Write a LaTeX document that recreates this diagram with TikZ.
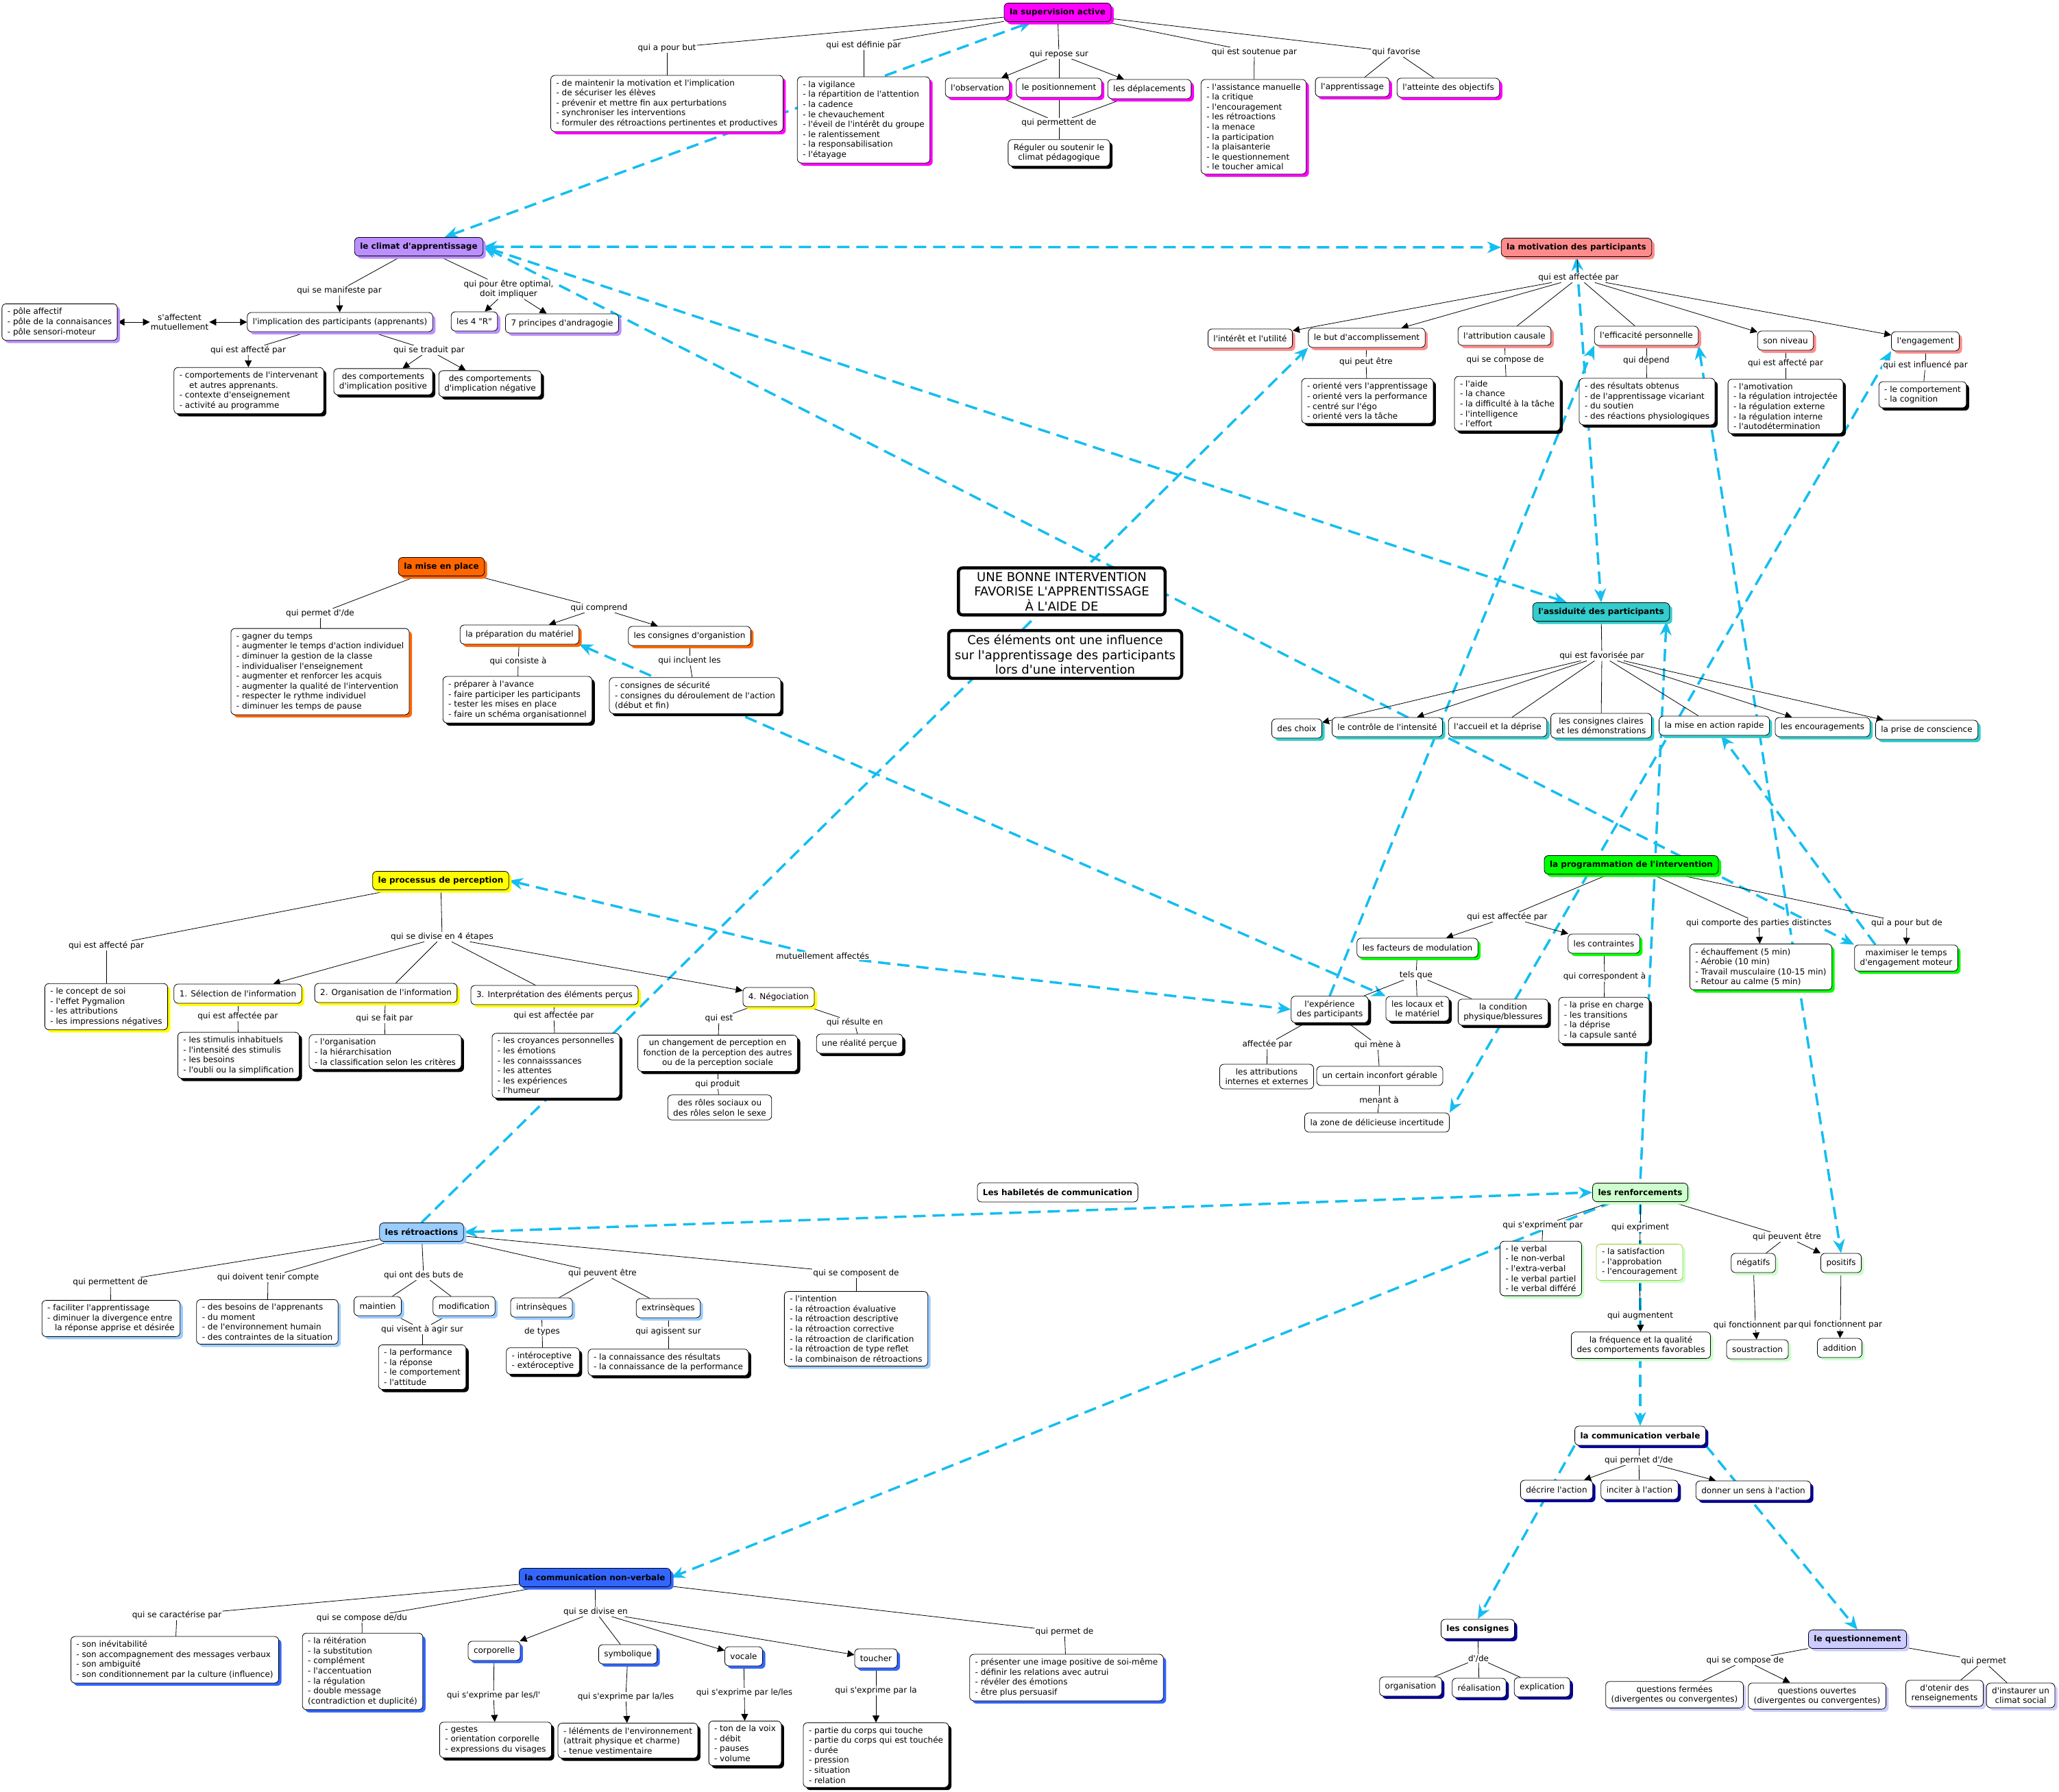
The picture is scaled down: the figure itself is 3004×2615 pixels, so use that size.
\documentclass[tikz,border=0pt]{standalone}
\usepackage{fontspec}
\setmainfont{DejaVu Sans}[Ligatures=TeXOff]
\usetikzlibrary{shadows,arrows.meta,calc}
\pgfdeclarelayer{back}\pgfdeclarelayer{bg}
\pgfsetlayers{back,bg,main}
\definecolor{cy}{RGB}{20,190,240}
\definecolor{mag}{RGB}{255,0,255}
\definecolor{lav}{RGB}{187,143,255}
\definecolor{ora}{RGB}{255,102,0}
\definecolor{yel}{RGB}{255,255,0}
\definecolor{sal}{RGB}{255,140,140}
\definecolor{tea}{RGB}{51,204,204}
\definecolor{grn}{RGB}{0,255,0}
\definecolor{lgr}{RGB}{204,255,204}
\definecolor{lbl}{RGB}{153,204,255}
\definecolor{rbl}{RGB}{51,102,255}
\definecolor{nav}{RGB}{0,0,153}
\definecolor{qlav}{RGB}{204,204,255}
\definecolor{ygr}{RGB}{153,204,51}
\tikzset{
 nf/.style={font=\fontsize{12}{14.6}\selectfont},
 bff/.style={font=\fontsize{12}{14.6}\selectfont\bfseries},
 cc/.style={draw, line width=0.8pt, rounded corners=6pt, fill=white, inner xsep=8pt, inner ysep=6pt, align=center, minimum height=28pt},
 cl/.style={cc, align=left},
 sh/.style={general shadow={fill=#1, shadow xshift=4pt, shadow yshift=-4pt}},
 hd/.style={cc, bff, fill=#1, sh=#1, minimum height=27pt},
 lb/.style={fill=white, inner sep=1pt, align=center},
 big/.style={draw, line width=4.5pt, rounded corners=6pt, fill=white, align=center, inner xsep=9pt, inner ysep=6pt, font=\fontsize{18}{21.6}\selectfont},
 ln/.style={line width=0.8pt},
 ar/.style={ln, -{Triangle[length=10pt,width=10pt]}},
 dar/.style={ln, {Triangle[length=10pt,width=10pt]}-{Triangle[length=10pt,width=10pt]}},
 xl/.style={draw=cy, line width=3.5pt, dash pattern=on 18pt off 10pt},
 xe/.style={xl, -{Stealth[length=20pt,width=17pt]}},
 xs/.style={xl, {Stealth[length=20pt,width=17pt]}-},
 xb/.style={xl, {Stealth[length=20pt,width=17pt]}-{Stealth[length=20pt,width=17pt]}},
}
\begin{document}
\begin{tikzpicture}[x=1pt,y=-1pt,nf]
\useasboundingbox (0,0) rectangle (3004,2615);
\begin{pgfonlayer}{back}\fill[white] (0,0) rectangle (3004,2615);\end{pgfonlayer}

% ---------- supervision
\node[hd=mag] (sup) at (1543,18) {la supervision active};
\node[lb] (l1) at (973,70) {qui a pour but};
\node[cl, sh=mag] (b1) at (973,151) {- de maintenir la motivation et l'implication\\- de sécuriser les élèves\\- prévenir et mettre fin aux perturbations\\- synchroniser les interventions\\- formuler des rétroactions pertinentes et productives};
\node[lb] (l2) at (1260,66) {qui est définie par};
\node[cl, sh=mag] (b2) at (1260,175) {- la vigilance\\- la répartition de l'attention\\- la cadence\\- le chevauchement\\- l'éveil de l'intérêt du groupe\\- le ralentissement\\- la responsabilisation\\- l'étayage};
\node[lb] (l3) at (1545,79) {qui repose sur};
\node[cc, sh=mag] (obs) at (1426,128) {l'observation};
\node[cc, sh=mag] (pos) at (1545,128) {le positionnement};
\node[cc, sh=mag] (dep) at (1677,130) {les déplacements};
\node[lb] (l4) at (1545,179) {qui permettent de};
\node[cc, sh=black] (reg) at (1545,223) {Réguler ou soutenir le\\climat pédagogique};
\node[lb] (l5) at (1830,76) {qui est soutenue par};
\node[cl, sh=mag] (b5) at (1829,185) {- l'assistance manuelle\\- la critique\\- l'encouragement\\- les rétroactions\\- la menace\\- la participation\\- la plaisanterie\\- le questionnement\\- le toucher amical};
\node[lb] (l6) at (2037,76) {qui favorise};
\node[cc, sh=mag] (app) at (1973,127) {l'apprentissage};
\node[cc, sh=mag] (att) at (2113,128) {l'atteinte des objectifs};

% ---------- climat
\node[hd=lav] (cli) at (611,360) {le climat d'apprentissage};
\node[lb] (l7) at (495,424) {qui se manifeste par};
\node[cc, sh=lav] (impl) at (496,470) {l'implication des participants (apprenants)};
\node[lb] (l8) at (742,422) {qui pour être optimal,\\doit impliquer};
\node[cc, sh=lav] (r4) at (692,469) {les 4 "R"};
\node[cc, sh=lav] (r7) at (820,472) {7 principes d'andragogie};
\node[lb] (l9) at (262,470) {s'affectent\\mutuellement};
\node[cl, sh=lav] (pole) at (87,470) {- pôle affectif\\- pôle de la connaisances\\- pôle sensori-moteur};
\node[lb] (l10) at (362,511) {qui est affecté par};
\node[cl, sh=black] (bcomp) at (363,570) {- comportements de l'intervenant\\\hspace*{1.2em}et autres apprenants.\\- contexte d'enseignement\\- activité au programme};
\node[lb] (l11) at (626,511) {qui se traduit par};
\node[cc, sh=black] (pos1) at (559,557) {des comportements\\d'implication positive};
\node[cc, sh=black] (neg1) at (715,560) {des comportements\\d'implication négative};

% ---------- mise en place
\node[hd=ora] (mep) at (644,827) {la mise en place};
\node[lb] (l12) at (467,895) {qui permet d'/de};
\node[cl, sh=ora] (bgag) at (467,980) {- gagner du temps\\- augmenter le temps d'action individuel\\- diminuer la gestion de la classe\\- individualiser l'enseignement\\- augmenter et renforcer les acquis\\- augmenter la qualité de l'intervention\\- respecter le rythme individuel\\- diminuer les temps de pause};
\node[lb] (l13) at (874,887) {qui comprend};
\node[cc, sh=ora] (prep) at (758,926) {la préparation du matériel};
\node[cc, sh=ora] (cons) at (1006,928) {les consignes d'organistion};
\node[lb] (l14) at (756,965) {qui consiste à};
\node[cl, sh=black] (bprep) at (755,1021) {- préparer à l'avance\\- faire participer les participants\\- tester les mises en place\\- faire un schéma organisationnel};
\node[lb] (l15) at (1006,964) {qui incluent les};
\node[cl, sh=black] (bcons) at (1014,1015) {- consignes de sécurité\\- consignes du déroulement de l'action\\(début et fin)};

% ---------- central
\node[big, inner xsep=23pt] (une) at (1549,863) {UNE BONNE INTERVENTION\\FAVORISE L'APPRENTISSAGE\\À L'AIDE DE};
\node[big] (ces) at (1554,955) {Ces éléments ont une influence\\sur l'apprentissage des participants\\lors d'une intervention};

% ---------- perception
\node[hd=yel] (per) at (643,1285) {le processus de perception};
\node[lb] (l16) at (155,1380) {qui est affecté par};
\node[cl, sh=yel] (bper) at (155,1469) {- le concept de soi\\- l'effet Pygmalion\\- les attributions\\- les impressions négatives};
\node[lb] (l17) at (645,1367) {qui se divise en 4 étapes};
\node[cc, sh=yel] (s1) at (347,1450) {1. Sélection de l'information};
\node[cc, sh=yel] (s2) at (563,1449) {2. Organisation de l'information};
\node[cc, sh=yel] (s3) at (809,1452) {3. Interprétation des éléments perçus};
\node[cc, sh=yel] (s4) at (1136,1455) {4. Négociation};
\node[lb] (l18) at (347,1483) {qui est affectée par};
\node[cl, sh=black] (b18) at (348,1540) {- les stimulis inhabituels\\- l'intensité des stimulis\\- les besoins\\- l'oubli ou la simplification};
\node[lb] (l19) at (561,1486) {qui se fait par};
\node[cl, sh=black] (b19) at (562,1535) {- l'organisation\\- la hiérarchisation\\- la classification selon les critères};
\node[lb] (l20) at (808,1482) {qui est affectée par};
\node[cl, sh=black] (b20) at (811,1555) {- les croyances personnelles\\- les émotions\\- les connaisssances\\- les attentes\\- les expériences\\- l'humeur};
\node[lb] (l21) at (1049,1486) {qui est};
\node[cc, sh=black] (b21) at (1047,1537) {un changement de perception en\\fonction de la perception des autres\\ou de la perception sociale};
\node[lb] (l22) at (1047,1582) {qui produit};
\node[cc] (b22) at (1050,1616) {des rôles sociaux ou\\des rôles selon le sexe};
\node[lb] (l23) at (1247,1492) {qui résulte en};
\node[cc, sh=black] (b23) at (1254,1523) {une réalité perçue};
\node[lb] (mut) at (1200,1395) {mutuellement affectés};

% ---------- motivation
\node[hd=sal] (mot) at (2300,361) {la motivation des participants};
\node[lb] (l24) at (2303,405) {qui est affectée par};
\node[cc, sh=sal] (intu) at (1824,494) {l'intérêt et l'utilité};
\node[cc, sh=sal] (but) at (1994,493) {le but d'accomplissement};
\node[cc, sh=sal] (attr) at (2195,490) {l'attribution causale};
\node[cc, sh=sal] (eff) at (2402,490) {l'efficacité personnelle};
\node[cc, sh=sal] (niv) at (2605,497) {son niveau};
\node[cc, sh=sal] (eng) at (2809,498) {l'engagement};
\node[lb] (l25) at (1993,528) {qui peut être};
\node[cl, sh=black] (b25) at (1995,585) {- orienté vers l'apprentissage\\- orienté vers la performance\\- centré sur l'égo\\- orienté vers la tâche};
\node[lb] (l26) at (2196,525) {qui se compose de};
\node[cl, sh=black] (b26) at (2199,589) {- l'aide\\- la chance\\- la difficulté à la tâche\\- l'intelligence\\- l'effort};
\node[lb] (l27) at (2402,526) {qui dépend};
\node[cl, sh=black] (b27) at (2403,586) {- des résultats obtenus\\- de l'apprentissage vicariant\\- du soutien\\- des réactions physiologiques};
\node[lb] (l28) at (2605,530) {qui est affecté par};
\node[cl, sh=black] (b28) at (2605,593) {- l'amotivation\\- la régulation introjectée\\- la régulation externe\\- la régulation interne\\- l'autodétermination};
\node[lb] (l29) at (2809,533) {qui est influencé par};
\node[cl, sh=black] (b29) at (2805,576) {- le comportement\\- la cognition};

% ---------- assiduite
\node[hd=tea] (ass) at (2336,893) {l'assiduité des participants};
\node[lb] (l30) at (2337,957) {qui est favorisée par};
\node[cc, sh=tea] (cho) at (1892,1063) {des choix};
\node[cc, sh=tea] (ctl) at (2024,1061) {le contrôle de l'intensité};
\node[cc, sh=tea] (acc) at (2185,1061) {l'accueil et la déprise};
\node[cc, sh=tea] (ccl) at (2336,1059) {les consignes claires\\et les démonstrations};
\node[cc, sh=tea] (mar) at (2501,1059) {la mise en action rapide};
\node[cc, sh=tea] (enc) at (2659,1061) {les encouragements};
\node[cc, sh=tea] (pdc) at (2811,1065) {la prise de conscience};

% ---------- programmation
\node[hd=grn] (prg) at (2380,1262) {la programmation de l'intervention};
\node[lb] (l31) at (2199,1338) {qui est affectée par};
\node[cc, sh=grn] (fac) at (2068,1383) {les facteurs de modulation};
\node[cc, sh=grn] (ctr) at (2340,1377) {les contraintes};
\node[lb] (l32) at (2066,1423) {tels que};
\node[cc, sh=black] (xpe) at (1940,1473) {l'expérience\\des participants};
\node[cc, sh=black] (loc) at (2068,1472) {les locaux et\\le matériel};
\node[cc, sh=black] (cnd) at (2193,1477) {la condition\\physique/blessures};
\node[lb] (l33) at (1849,1524) {affectée par};
\node[cc] (att2) at (1848,1571) {les attributions\\internes et externes};
\node[lb] (l34) at (2010,1525) {qui mène à};
\node[cc] (inc) at (2013,1570) {un certain inconfort gérable};
\node[lb] (l35) at (2012,1605) {menant à};
\node[cc] (zon) at (2009,1638) {la zone de délicieuse incertitude};
\node[lb] (l36) at (2341,1425) {qui correspondent à};
\node[cl, sh=black] (b36) at (2340,1489) {- la prise en charge\\- les transitions\\- la déprise\\- la capsule santé};
\node[lb] (l37) at (2566,1347) {qui comporte des parties distinctes};
\node[cl, sh=grn] (b37) at (2569,1411) {- échauffement (5 min)\\- Aérobie (10 min)\\- Travail musculaire (10-15 min)\\- Retour au calme (5 min)};
\node[lb] (l38) at (2782,1347) {qui a pour but de};
\node[cc, sh=grn] (mxt) at (2781,1398) {maximiser le temps\\d'engagement moteur};

% ---------- renforcements
\node[hd=lgr] (ren) at (2393,1740) {les renforcements};
\node[lb] (l39) at (2251,1788) {qui s'expriment par};
\node[cl, sh=lgr] (b39) at (2248,1851) {- le verbal\\- le non-verbal\\- l'extra-verbal\\- le verbal partiel\\- le verbal différé};
\node[lb] (l40) at (2393,1791) {qui expriment};
\node[cl, sh=lgr, draw=ygr] (b40) at (2392,1842) {- la satisfaction\\- l'approbation\\- l'encouragement};
\node[lb] (l41) at (2393,1920) {qui augmentent};
\node[cc, sh=lgr] (fre) at (2394,1963) {la fréquence et la qualité\\des comportements favorables};
\node[lb] (l42) at (2607,1805) {qui peuvent être};
\node[cc, sh=lgr] (neg) at (2558,1843) {négatifs};
\node[cc, sh=lgr] (posf) at (2686,1843) {positifs};
\node[lb] (l43) at (2561,1934) {qui fonctionnent par};
\node[cc, sh=lgr] (sou) at (2564,1969) {soustraction};
\node[lb] (l44) at (2685,1933) {qui fonctionnent par};
\node[cc, sh=lgr] (addi) at (2684,1967) {addition};

% ---------- communication verbale
\node[cc, bff, sh=nav] (cv) at (2393,2095) {la communication verbale};
\node[lb] (l45) at (2391,2131) {qui permet d'/de};
\node[cc, sh=nav] (dec) at (2271,2174) {décrire l'action};
\node[cc, sh=nav] (inci) at (2392,2174) {inciter à l'action};
\node[cc, sh=nav] (don) at (2558,2175) {donner un sens à l'action};
\node[cc, bff, sh=nav] (lcs) at (2156,2377) {les consignes};
\node[lb] (l46) at (2157,2420) {d'/de};
\node[cc, sh=nav] (org) at (2058,2461) {organisation};
\node[cc, sh=nav] (rea) at (2158,2463) {réalisation};
\node[cc, sh=nav] (expl) at (2250,2462) {explication};
\node[hd=qlav] (que) at (2710,2392) {le questionnement};
\node[lb] (l47) at (2546,2423) {qui se compose de};
\node[cc, sh=qlav] (qf) at (2443,2473) {questions fermées\\(divergentes ou convergentes)};
\node[cc, sh=qlav] (qo) at (2651,2475) {questions ouvertes\\(divergentes ou convergentes)};
\node[lb] (l48) at (2894,2424) {qui permet};
\node[cc, sh=qlav] (qr) at (2837,2471) {d'otenir des\\renseignements};
\node[cc, sh=qlav] (qc) at (2948,2474) {d'instaurer un\\climat social};

% ---------- retroactions
\node[hd=lbl] (ret) at (615,1798) {les rétroactions};
\node[lb] (l49) at (161,1871) {qui permettent de};
\node[cl, sh=lbl] (b49) at (162,1924) {- faciliter l'apprentissage\\- diminuer la divergence entre\\\hspace*{0.9em}la réponse apprise et désirée};
\node[lb] (l50) at (391,1864) {qui doivent tenir compte};
\node[cl, sh=lbl] (b50) at (390,1929) {- des besoins de l'apprenants\\- du moment\\- de l'environnement humain\\- des contraintes de la situation};
\node[lb] (l51) at (618,1861) {qui ont des buts de};
\node[cc, sh=lbl] (mai) at (551,1906) {maintien};
\node[cc, sh=lbl] (mod) at (677,1906) {modification};
\node[lb] (l52) at (616,1940) {qui visent à agir sur};
\node[cl, sh=black] (b52) at (616,1995) {- la performance\\- la réponse\\- le comportement\\- l'attitude};
\node[lb] (l53) at (879,1858) {qui peuvent être};
\node[cc, sh=lbl] (intr) at (790,1908) {intrinsèques};
\node[cc, sh=lbl] (extr) at (975,1909) {extrinsèques};
\node[lb] (l54) at (791,1943) {de types};
\node[cl, sh=black] (b54) at (792,1986) {- intéroceptive\\- extéroceptive};
\node[lb] (l55) at (975,1943) {qui agissent sur};
\node[cl, sh=black] (b55) at (975,1988) {- la connaissance des résultats\\- la connaissance de la performance};
\node[lb] (l56) at (1249,1858) {qui se composent de};
\node[cl, sh=lbl] (b56) at (1249,1939) {- l'intention\\- la rétroaction évaluative\\- la rétroaction descriptive\\- la rétroaction corrective\\- la rétroaction de clarification\\- la rétroaction de type reflet\\- la combinaison de rétroactions};
\node[cc, bff] (hab) at (1543,1740) {Les habiletés de communication};

% ---------- non-verbale
\node[hd=rbl] (nv) at (868,2302) {la communication non-verbale};
\node[lb] (l57) at (258,2357) {qui se caractérise par};
\node[cl, sh=rbl] (b57) at (255,2422) {- son inévitabilité\\- son accompagnement des messages verbaux\\- son ambiguité\\- son conditionnement par la culture (influence)};
\node[lb] (l58) at (528,2361) {qui se compose de/du};
\node[cl, sh=rbl] (b58) at (529,2439) {- la réitération\\- la substitution\\- complément\\- l'accentuation\\- la régulation\\- double message\\(contradiction et duplicité)};
\node[lb] (l59) at (869,2352) {qui se divise en};
\node[cc, sh=rbl] (cor) at (721,2409) {corporelle};
\node[cc, sh=rbl] (sym) at (916,2414) {symbolique};
\node[cc, sh=rbl] (voc) at (1085,2417) {vocale};
\node[cc, sh=rbl] (tou) at (1278,2420) {toucher};
\node[lb] (l60) at (720,2474) {qui s'exprime par les/l'};
\node[cl, sh=black] (b60) at (723,2539) {- gestes\\- orientation corporelle\\- expressions du visages};
\node[lb] (l61) at (913,2476) {qui s'exprime par la/les};
\node[cl, sh=black] (b61) at (916,2540) {- léléments de l'environnement\\(attrait physique et charme)\\- tenue vestimentaire};
\node[lb] (l62) at (1086,2470) {qui s'exprime par le/les};
\node[cl, sh=black] (b62) at (1087,2544) {- ton de la voix\\- débit\\- pauses\\- volume};
\node[lb] (l63) at (1278,2467) {qui s'exprime par la};
\node[cl, sh=black] (b63) at (1278,2561) {- partie du corps qui touche\\- partie du corps qui est touchée\\- durée\\- pression\\- situation\\- relation};
\node[lb] (l64) at (1553,2381) {qui permet de};
\node[cl, sh=rbl] (b64) at (1556,2448) {- présenter une image positive de soi-même\\- définir les relations avec autrui\\- révéler des émotions\\- être plus persuasif};

% ================= connectors
\begin{pgfonlayer}{bg}
% cross links
\draw[xb] (cli) -- (sup);
\draw[xb] (cli) -- (mot);
\draw[xb] (cli.east) -- ($(ass.north west)+(50,0)$);
\draw[xb] (cli.east) -- (mxt.north west);
\draw[xe] (ret.north) -- (but.south west);
\draw[xb] (prep.south east) -- (loc.north west);
\draw[xs] (per.east) -- (mut);
\draw[xe] (mut) -- (xpe.west);
\draw[xe] (xpe.north) -- (eff.south west);
\draw[xb] (eff.south east) -- (posf.north);
\draw[xb] (mot.south) -- (ass.north);
\draw[xs] ($(ass.south east)+(-5,0)$) -- (ren.north);
\draw[xe] (ren.south) -- (cv.north);
\draw[xe] ($(mxt.north)+(-45,0)$) -- ($(mar.south)+(10,0)$);
\draw[xb] (eng.south west) -- (zon.north east);
\draw[xb] (ret.east) -- (ren.west);
\draw[xe] ($(ren.south west)+(30,0)$) -- (nv.east);
\draw[xe] (cv.south west) -- (lcs.north);
\draw[xe] (cv.south east) -- (que.north);

% supervision
\draw[ln] (sup) -- (l1); \draw[ln] (l1) -- (b1);
\draw[ln] (sup) -- (l2); \draw[ln] (l2) -- (b2);
\draw[ln] (sup) -- (l3); \draw[ar] (l3) -- (obs); \draw[ln] (l3) -- (pos); \draw[ar] (l3) -- (dep);
\draw[ln] (obs) -- (l4); \draw[ln] (pos) -- (l4); \draw[ln] (dep) -- (l4); \draw[ln] (l4) -- (reg);
\draw[ln] (sup) -- (l5); \draw[ln] (l5) -- (b5);
\draw[ln] (sup) -- (l6); \draw[ln] (l6) -- (app); \draw[ln] (l6) -- (att);
% climat
\draw[ln] (cli) -- (l7); \draw[ar] (l7) -- (impl);
\draw[ln] (cli) -- (l8); \draw[ar] (l8) -- (r4); \draw[ar] (l8) -- (r7);
\draw[dar] (pole) -- (l9); \draw[dar] (l9) -- (impl);
\draw[ln] (impl) -- (l10); \draw[ar] (l10) -- (bcomp);
\draw[ln] (impl) -- (l11); \draw[ar] (l11) -- (pos1); \draw[ar] (l11) -- (neg1);
% mise en place
\draw[ln] (mep) -- (l12); \draw[ln] (l12) -- (bgag);
\draw[ln] (mep) -- (l13); \draw[ar] (l13) -- (prep); \draw[ar] (l13) -- (cons);
\draw[ln] (prep) -- (l14); \draw[ln] (l14) -- (bprep);
\draw[ln] (cons) -- (l15); \draw[ln] (l15) -- (bcons);
% perception
\draw[ln] (per) -- (l16); \draw[ln] (l16) -- (bper);
\draw[ln] (per) -- (l17); \draw[ar] (l17) -- (s1); \draw[ln] (l17) -- (s2); \draw[ln] (l17) -- (s3); \draw[ar] (l17) -- (s4);
\draw[ln] (s1) -- (l18); \draw[ln] (l18) -- (b18);
\draw[ln] (s2) -- (l19); \draw[ln] (l19) -- (b19);
\draw[ln] (s3) -- (l20); \draw[ln] (l20) -- (b20);
\draw[ln] (s4) -- (l21); \draw[ln] (l21) -- (b21); \draw[ln] (b21) -- (l22); \draw[ln] (l22) -- (b22);
\draw[ln] (s4) -- (l23); \draw[ln] (l23) -- (b23);
% motivation
\draw[ln] (mot) -- (l24);
\draw[ar] (l24) -- (intu); \draw[ar] (l24) -- (but); \draw[ln] (l24) -- (attr); \draw[ln] (l24) -- (eff); \draw[ar] (l24) -- (niv); \draw[ar] (l24) -- (eng);
\draw[ln] (but) -- (l25); \draw[ln] (l25) -- (b25);
\draw[ln] (attr) -- (l26); \draw[ln] (l26) -- (b26);
\draw[ln] (eff) -- (l27); \draw[ln] (l27) -- (b27);
\draw[ln] (niv) -- (l28); \draw[ln] (l28) -- (b28);
\draw[ln] (eng) -- (l29); \draw[ln] (l29) -- (b29);
% assiduite
\draw[ln] (ass) -- (l30);
\draw[ar] (l30) -- (cho); \draw[ar] (l30) -- (ctl); \draw[ln] (l30) -- (acc); \draw[ln] (l30) -- (ccl); \draw[ln] (l30) -- (mar); \draw[ar] (l30) -- (enc); \draw[ar] (l30) -- (pdc);
% programmation
\draw[ln] (prg) -- (l31); \draw[ar] (l31) -- (fac); \draw[ar] (l31) -- (ctr);
\draw[ln] (fac) -- (l32); \draw[ln] (l32) -- (xpe); \draw[ln] (l32) -- (loc); \draw[ln] (l32) -- (cnd);
\draw[ln] (xpe) -- (l33); \draw[ln] (l33) -- (att2);
\draw[ln] (xpe) -- (l34); \draw[ln] (l34) -- (inc); \draw[ln] (inc) -- (l35); \draw[ln] (l35) -- (zon);
\draw[ln] (ctr) -- (l36); \draw[ln] (l36) -- (b36);
\draw[ln] (prg) -- (l37); \draw[ar] (l37) -- (b37);
\draw[ln] (prg) -- (l38); \draw[ar] (l38) -- (mxt);
% renforcements
\draw[ln] (ren) -- (l39); \draw[ln] (l39) -- (b39);
\draw[ln] (ren) -- (l40); \draw[ln] (l40) -- (b40);
\draw[ln] (b40) -- (l41); \draw[ar] (l41) -- (fre);
\draw[ln] (ren) -- (l42); \draw[ln] (l42) -- (neg); \draw[ar] (l42) -- (posf);
\draw[ln] (neg) -- (l43); \draw[ar] (l43) -- (sou);
\draw[ln] (posf) -- (l44); \draw[ar] (l44) -- (addi);
% communication verbale
\draw[ln] (cv) -- (l45); \draw[ar] (l45) -- (dec); \draw[ln] (l45) -- (inci); \draw[ar] (l45) -- (don);
\draw[ln] (lcs) -- (l46); \draw[ln] (l46) -- (org); \draw[ln] (l46) -- (rea); \draw[ln] (l46) -- (expl);
\draw[ln] (que) -- (l47); \draw[ln] (l47) -- (qf); \draw[ar] (l47) -- (qo);
\draw[ln] (que) -- (l48); \draw[ln] (l48) -- (qr); \draw[ln] (l48) -- (qc);
% retroactions
\draw[ln] (ret) -- (l49); \draw[ln] (l49) -- (b49);
\draw[ln] (ret) -- (l50); \draw[ln] (l50) -- (b50);
\draw[ln] (ret) -- (l51); \draw[ln] (l51) -- (mai); \draw[ln] (l51) -- (mod);
\draw[ln] (mai) -- (l52); \draw[ln] (mod) -- (l52); \draw[ln] (l52) -- (b52);
\draw[ln] (ret) -- (l53); \draw[ln] (l53) -- (intr); \draw[ln] (l53) -- (extr);
\draw[ln] (intr) -- (l54); \draw[ln] (l54) -- (b54);
\draw[ln] (extr) -- (l55); \draw[ln] (l55) -- (b55);
\draw[ln] (ret) -- (l56); \draw[ln] (l56) -- (b56);
% non-verbale
\draw[ln] (nv) -- (l57); \draw[ln] (l57) -- (b57);
\draw[ln] (nv) -- (l58); \draw[ln] (l58) -- (b58);
\draw[ln] (nv) -- (l59); \draw[ar] (l59) -- (cor); \draw[ln] (l59) -- (sym); \draw[ar] (l59) -- (voc); \draw[ar] (l59) -- (tou);
\draw[ln] (cor) -- (l60); \draw[ar] (l60) -- (b60);
\draw[ln] (sym) -- (l61); \draw[ar] (l61) -- (b61);
\draw[ln] (voc) -- (l62); \draw[ar] (l62) -- (b62);
\draw[ln] (tou) -- (l63); \draw[ar] (l63) -- (b63);
\draw[ln] (nv) -- (l64); \draw[ln] (l64) -- (b64);
\end{pgfonlayer}
\end{tikzpicture}
\end{document}
